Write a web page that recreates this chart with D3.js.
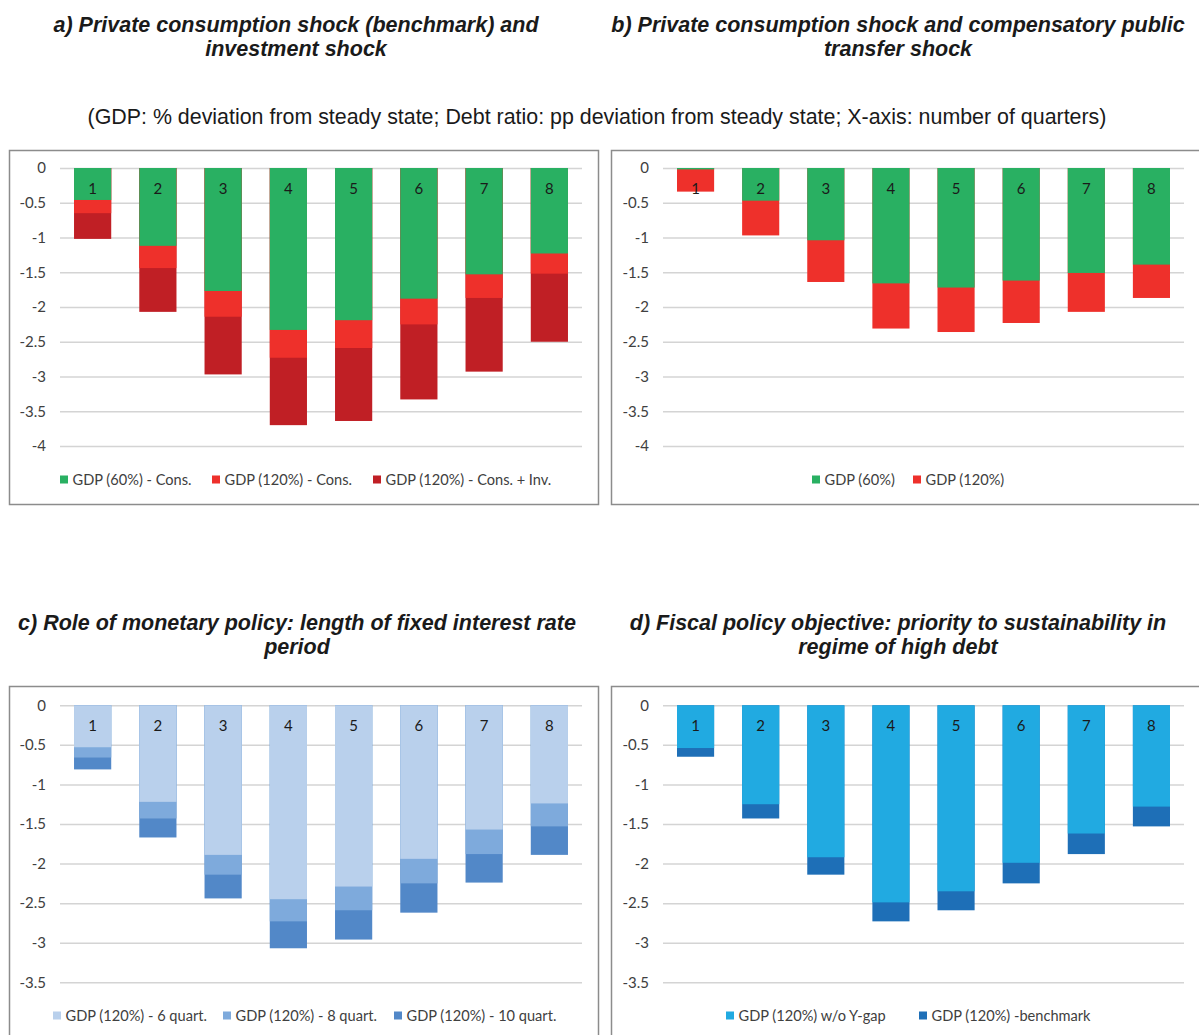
<!DOCTYPE html>
<html>
<head>
<meta charset="utf-8">
<script src="https://cdn.jsdelivr.net/npm/d3@7"></script>
<style>
  html, body { margin: 0; padding: 0; background: #ffffff; }
  svg { display: block; }
  .title { font-family: "Liberation Sans", Arial, sans-serif; font-weight: bold; font-style: italic; font-size: 21.5px; fill: #1a1a1a; }
  .subtitle { font-family: "Liberation Sans", Arial, sans-serif; font-size: 21.4px; fill: #1a1a1a; }
  .tick text { font-family: Lato, "Open Sans", sans-serif; font-size: 15px; fill: #404040; }
  .cat { font-family: Lato, "Open Sans", sans-serif; font-size: 15px; fill: #1a1a1a; }
  .legend text { font-family: Lato, "Open Sans", sans-serif; font-size: 14.6px; fill: #404040; }
</style>
</head>
<body>
<svg id="chart" width="1199" height="1035"></svg>
<script>
// Quarters after the shock
const quarters = ["1", "2", "3", "4", "5", "6", "7", "8"];

// a) Private consumption shock (benchmark) and investment shock
const aGdp60Cons      = [-0.46, -1.12, -1.77, -2.33, -2.19, -1.88, -1.53, -1.23];
const aGdp120Cons     = [-0.65, -1.44, -2.14, -2.73, -2.59, -2.25, -1.87, -1.52];
const aGdp120ConsInv  = [-1.02, -2.07, -2.97, -3.70, -3.64, -3.33, -2.93, -2.50];

// b) Private consumption shock and compensatory public transfer shock
const bGdp60  = [-0.02, -0.47, -1.04, -1.66, -1.72, -1.62, -1.51, -1.39];
const bGdp120 = [-0.34, -0.97, -1.64, -2.31, -2.36, -2.23, -2.07, -1.87];

// c) Role of monetary policy: length of fixed interest rate period
const cGdp6q  = [-0.53, -1.22, -1.89, -2.45, -2.29, -1.94, -1.57, -1.24];
const cGdp8q  = [-0.66, -1.43, -2.14, -2.73, -2.59, -2.25, -1.88, -1.53];
const cGdp10q = [-0.81, -1.67, -2.44, -3.07, -2.96, -2.62, -2.24, -1.89];

// d) Fiscal policy objective: priority to sustainability in regime of high debt
const dGdpNoGap     = [-0.54, -1.25, -1.92, -2.49, -2.35, -1.99, -1.62, -1.28];
const dGdpBenchmark = [-0.65, -1.43, -2.14, -2.73, -2.59, -2.25, -1.88, -1.53];

// Y-axis tick values
const ticksAB = [0, -0.5, -1, -1.5, -2, -2.5, -3, -3.5, -4];
const ticksCD = [0, -0.5, -1, -1.5, -2, -2.5, -3, -3.5];

const subtitleText = "(GDP: % deviation from steady state; Debt ratio: pp deviation from steady state; X-axis: number of quarters)";

const panels = [
  {
    title: ["a) Private consumption shock (benchmark) and", "investment shock"],
    titleX: 296, titleY: 32,
    frame: { x: 9.5, y: 150.5, w: 589, h: 354 },
    x0: 60, x1: 582, yTop: 168, yBot: 446, domain: [-4, 0], ticks: ticksAB,
    legendY: 479,
    series: [
      { name: "GDP (60%) - Cons.", values: aGdp60Cons, color: "#29b062", lx: 60 },
      { name: "GDP (120%) - Cons.", values: aGdp120Cons, color: "#ee302b", lx: 212 },
      { name: "GDP (120%) - Cons. + Inv.", values: aGdp120ConsInv, color: "#c01f25", lx: 373 }
    ]
  },
  {
    title: ["b) Private consumption shock and compensatory public", "transfer shock"],
    titleX: 898, titleY: 32,
    frame: { x: 611.5, y: 150.5, w: 600, h: 354 },
    x0: 663, x1: 1184, yTop: 168, yBot: 446, domain: [-4, 0], ticks: ticksAB,
    legendY: 479,
    series: [
      { name: "GDP (60%)", values: bGdp60, color: "#29b062", lx: 812 },
      { name: "GDP (120%)", values: bGdp120, color: "#ee302b", lx: 913 }
    ]
  },
  {
    title: ["c) Role of monetary policy: length of fixed interest rate", "period"],
    titleX: 297, titleY: 630,
    frame: { x: 9.5, y: 686.5, w: 589, h: 360 },
    x0: 60, x1: 582, yTop: 705.3, yBot: 982.3, domain: [-3.5, 0], ticks: ticksCD,
    legendY: 1015,
    series: [
      { name: "GDP (120%) - 6 quart.", values: cGdp6q, color: "#b9d0ec", lx: 53 },
      { name: "GDP (120%) - 8 quart.", values: cGdp8q, color: "#7eaadc", lx: 223 },
      { name: "GDP (120%) - 10 quart.", values: cGdp10q, color: "#5288c8", lx: 394 }
    ]
  },
  {
    title: ["d) Fiscal policy objective: priority to sustainability in", "regime of high debt"],
    titleX: 898, titleY: 630,
    frame: { x: 611.5, y: 686.5, w: 600, h: 360 },
    x0: 663, x1: 1184, yTop: 705.3, yBot: 982.3, domain: [-3.5, 0], ticks: ticksCD,
    legendY: 1015,
    series: [
      { name: "GDP (120%) w/o Y-gap", values: dGdpNoGap, color: "#21aae1", lx: 726 },
      { name: "GDP (120%) -benchmark", values: dGdpBenchmark, color: "#1e6fb7", lx: 919 }
    ]
  }
];

const svg = d3.select("#chart");

// Shared subtitle across the four panels
svg.append("text").attr("class", "subtitle")
  .attr("x", 597).attr("y", 124).attr("text-anchor", "middle")
  .text(subtitleText);

const fmt = d => (d === 0 ? "0" : String(d));

panels.forEach(p => {
  const g = svg.append("g");

  // Panel heading, two centred lines
  const t = g.append("text").attr("class", "title").attr("text-anchor", "middle");
  p.title.forEach((line, i) => {
    t.append("tspan").attr("x", p.titleX).attr("y", p.titleY + i * 24).text(line);
  });

  // Chart frame
  g.append("rect")
    .attr("x", p.frame.x).attr("y", p.frame.y)
    .attr("width", p.frame.w).attr("height", p.frame.h)
    .attr("fill", "none").attr("stroke", "#8c8c8c").attr("stroke-width", 1.5);

  const x = d3.scaleBand().domain(quarters).range([p.x0, p.x1]).paddingInner(0.43).paddingOuter(0.215);
  const y = d3.scaleLinear().domain(p.domain).range([p.yBot, p.yTop]);

  // Gridlines and y tick labels
  const axis = d3.axisLeft(y).tickValues(p.ticks).tickFormat(fmt)
    .tickSize(-(p.x1 - p.x0)).tickPadding(14);
  const ag = g.append("g").attr("transform", `translate(${p.x0},0)`).call(axis);
  ag.select(".domain").remove();
  ag.selectAll(".tick line").attr("stroke", "#d4d4d4").attr("stroke-width", 1.5);

  // Overlapping bars: the deepest series sits behind, the shallowest in front
  const ordered = p.series.slice().reverse();
  ordered.forEach(s => {
    g.append("g").selectAll("rect")
      .data(quarters.map((q, i) => ({ q, v: s.values[i] })))
      .join("rect")
      .attr("x", d => x(d.q))
      .attr("y", y(0))
      .attr("width", x.bandwidth())
      .attr("height", d => y(d.v) - y(0))
      .attr("fill", s.color);
  });

  // Quarter labels inside the top of each bar
  g.append("g").selectAll("text")
    .data(quarters)
    .join("text")
    .attr("class", "cat")
    .attr("x", d => x(d) + x.bandwidth() / 2)
    .attr("y", y(0) + 26)
    .attr("text-anchor", "middle")
    .text(d => d);

  // Legend
  const lg = g.append("g").attr("class", "legend");
  p.series.forEach(s => {
    lg.append("rect").attr("x", s.lx).attr("y", p.legendY - 3.5)
      .attr("width", 8).attr("height", 8).attr("fill", s.color);
    lg.append("text").attr("x", s.lx + 12.5).attr("y", p.legendY + 5.5).text(s.name);
  });
});
</script>
</body>
</html>
